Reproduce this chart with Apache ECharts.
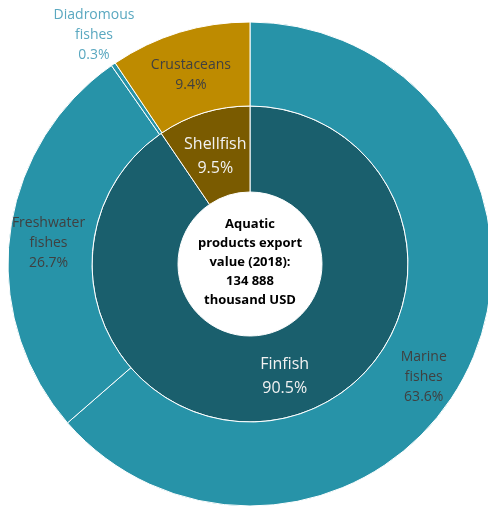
<!DOCTYPE html>
<html>
<head>
<meta charset="utf-8">
<script src="https://cdn.jsdelivr.net/npm/echarts@6/dist/echarts.min.js"></script>
<style>
html,body{margin:0;padding:0;background:#fff;}
#chart{width:488px;height:507px;}
</style>
</head>
<body>
<div id="chart"></div>
<script>
const innerCategories = ['Finfish', 'Shellfish'];
const innerValues = [90.5, 9.5];
const outerCategories = ['Marine\nfishes', 'Freshwater\nfishes', 'Diadromous\nfishes', 'Crustaceans'];
const outerValues = [63.6, 26.7, 0.3, 9.4];
const centerLines = ['Aquatic', 'products export', 'value (2018):', '134 888', 'thousand USD'];

const innerColors = ['#1A5F6D', '#7A5B00'];
const outerColors = ['#2793A8', '#2793A8', '#2793A8', '#BE8B00'];
const FONT = '"Open Sans", sans-serif';

const chart = echarts.init(document.getElementById('chart'), null, {renderer: 'canvas'});

const innerData = innerCategories.map((n, i) => ({
  name: n, value: innerValues[i], itemStyle: {color: innerColors[i]}
}));
const outerData = outerCategories.map((n, i) => ({
  name: n, value: outerValues[i], itemStyle: {color: outerColors[i]},
  label: i === 2 ? {color: '#5AA8C0'} : {}
}));

chart.setOption({
  animation: false,
  series: [
    {
      type: 'pie',
      center: [250, 264],
      radius: [72, 158],
      startAngle: 90,
      clockwise: true,
      avoidLabelOverlap: false,
      silent: true,
      itemStyle: {borderColor: '#fff', borderWidth: 1},
      label: {
        show: true, position: 'inside',
        color: '#F2F2F2', fontFamily: FONT, fontSize: 16, lineHeight: 24,
        formatter: p => p.name + '\n' + p.value + '%'
      },
      labelLine: {show: false},
      labelLayout: function (params) {
        if (params.dataIndex === 1) return {dy: 5};
        return {};
      },
      data: innerData
    },
    {
      type: 'pie',
      center: [250, 264],
      radius: [158, 242],
      startAngle: 90,
      clockwise: true,
      avoidLabelOverlap: false,
      silent: true,
      itemStyle: {borderColor: '#fff', borderWidth: 1},
      label: {
        show: true, position: 'inside',
        color: '#404040', fontFamily: FONT, fontSize: 14, lineHeight: 20,
        formatter: p => p.name + '\n' + p.value + '%'
      },
      labelLine: {show: false},
      labelLayout: function (params) {
        if (params.dataIndex === 0) return {dx: -11, dy: 29};
        if (params.dataIndex === 1) return {dy: 4};
        if (params.dataIndex === 2) return {x: 94, y: 35};
        if (params.dataIndex === 3) return {dy: 5};
        return {};
      },
      data: outerData
    }
  ],
  graphic: [{
    type: 'text',
    style: {
      x: 250, y: 262,
      text: centerLines.join('\n'),
      align: 'center', verticalAlign: 'middle',
      font: 'bold 13px "Open Sans", sans-serif',
      lineHeight: 19,
      fill: '#000'
    }
  }]
});
</script>
</body>
</html>
